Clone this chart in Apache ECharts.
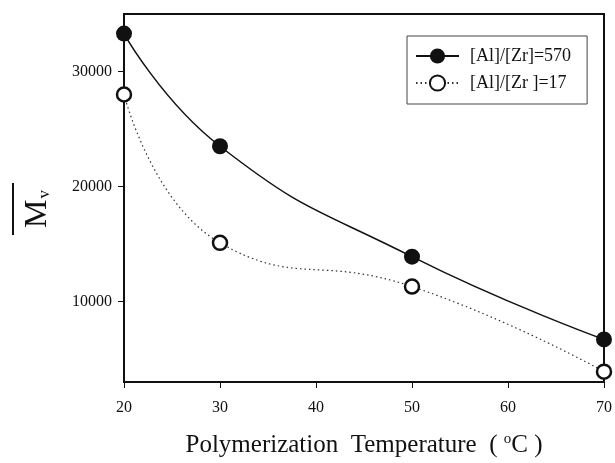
<!DOCTYPE html>
<html>
<head>
<meta charset="utf-8">
<script src="https://cdn.jsdelivr.net/npm/echarts@6/dist/echarts.min.js"></script>
<style>
  html, body { margin: 0; padding: 0; background: #fff; }
  #chart { width: 615px; height: 463px; }
</style>
</head>
<body>
<div id="chart"></div>
<script>
// temperatures (°C) and viscosity-average molecular weight
const temps = [20, 30, 50, 70]
const mvHigh = [33300, 23500, 13900, 6700]   // [Al]/[Zr]=570
const mvLow = [28000, 15100, 11300, 3900]    // [Al]/[Zr ]=17
const xTicks = [20, 30, 40, 50, 60, 70]
const yTicks = [10000, 20000, 30000]
const seriesNames = ['[Al]/[Zr]=570', '[Al]/[Zr ]=17']

const serif = '"Liberation Serif", "DejaVu Serif", serif'
const chart = echarts.init(document.getElementById('chart'))

chart.setOption({
  animation: false,
  textStyle: { fontFamily: serif, color: '#111' },
  grid: {
    left: 124, right: 9, top: 14, bottom: 81,
    show: true, borderColor: '#111', borderWidth: 2, backgroundColor: 'transparent'
  },
  legend: {
    orient: 'vertical',
    left: 407, top: 36,
    padding: [11, 16, 12, 8],
    itemGap: 9,
    itemWidth: 43,
    itemHeight: 19,
    borderColor: '#444', borderWidth: 1,
    textStyle: { fontFamily: serif, fontSize: 18, color: '#111', padding: [0, 0, 0, 6] },
    data: seriesNames
  },
  xAxis: {
    type: 'value',
    min: 20, max: 70, interval: 10,
    name: '{a|Polymerization  Temperature  ( }{s|o}{a|C )}',
    nameLocation: 'middle',
    nameGap: 50,
    nameTextStyle: {
      rich: {
        a: { fontFamily: serif, fontSize: 25, color: '#111' },
        s: { fontFamily: serif, fontSize: 15, color: '#111', verticalAlign: 'top', padding: [0, 0, 12, 0] }
      }
    },
    axisLine: { lineStyle: { color: '#111', width: 2 } },
    axisTick: { show: true, inside: false, length: 6, lineStyle: { color: '#111' }, customValues: xTicks },
    axisLabel: { fontFamily: serif, fontSize: 16, color: '#111', margin: 18, customValues: xTicks },
    splitLine: { show: false }
  },
  yAxis: {
    type: 'value',
    min: 3000, max: 35000,
    name: '{m|M}{v|v}',
    nameLocation: 'middle',
    nameRotate: 90,
    nameGap: 70,
    nameTextStyle: {
      padding: [0, 22, 0, 0],
      rich: {
        m: { fontFamily: serif, fontSize: 32, color: '#111' },
        v: { fontFamily: serif, fontSize: 17, color: '#111', padding: [14, 0, 0, 1] }
      }
    },
    axisLine: { show: true, lineStyle: { color: '#111', width: 2 } },
    axisTick: { show: true, inside: false, length: 6, lineStyle: { color: '#111' }, customValues: yTicks },
    axisLabel: {
      fontFamily: serif, fontSize: 16, color: '#111', margin: 12, customValues: yTicks,
      formatter: (v) => String(v)
    },
    splitLine: { show: false }
  },
  graphic: [
    { type: 'line', shape: { x1: 13, y1: 183, x2: 13, y2: 235 }, style: { stroke: '#111', lineWidth: 2 } }
  ],
  series: [
    {
      name: seriesNames[0],
      type: 'line',
      smooth: true,
      clip: false,
      data: temps.map((t, i) => [t, mvHigh[i]]),
      symbol: 'circle',
      symbolSize: 16,
      lineStyle: { color: '#111', width: 1.5 },
      itemStyle: { color: '#111', borderColor: '#111', borderWidth: 0 },
      z: 3
    },
    {
      name: seriesNames[1],
      type: 'line',
      smooth: true,
      clip: false,
      data: temps.map((t, i) => [t, mvLow[i]]),
      symbol: 'circle',
      symbolSize: 14,
      lineStyle: { color: '#333', width: 1.2, type: [1.5, 3] },
      itemStyle: { color: '#fff', borderColor: '#111', borderWidth: 2.5 },
      z: 2
    }
  ]
})
</script>
</body>
</html>
